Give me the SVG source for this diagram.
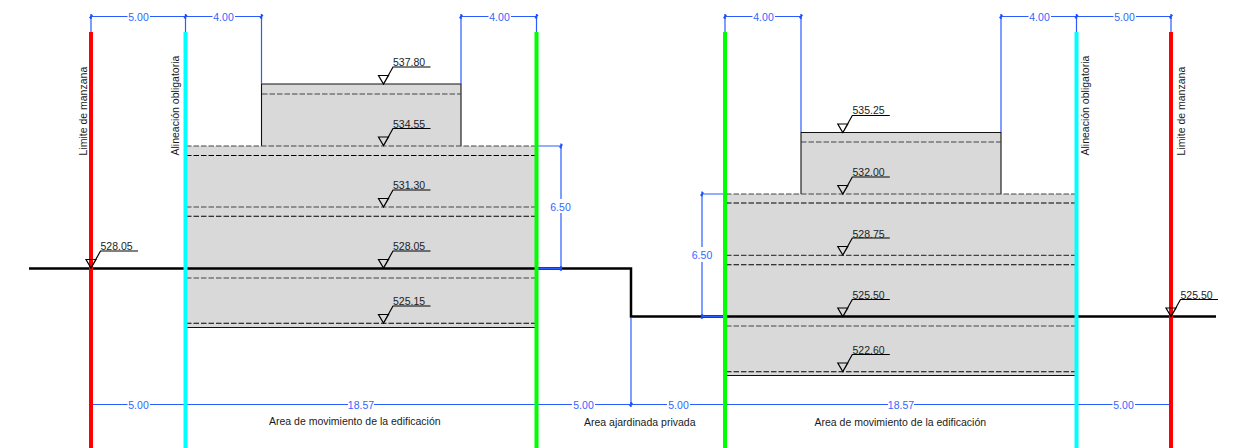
<svg xmlns="http://www.w3.org/2000/svg" xmlns:xlink="http://www.w3.org/1999/xlink" width="1236" height="448" viewBox="0 0 1236 448">
<style>
text{font-family:"Liberation Sans",Arial,sans-serif;font-size:10.5px}
.lab{fill:#1a1a1a}
.lv{fill:#222}
.dt{fill:#3366ff;text-anchor:middle}
.dim{stroke:#2b5cff;stroke-width:1.2;fill:none}
.tick{stroke:#1a4dff;stroke-width:1.4;fill:none}
.mass{fill:#d9d9d9}
.edge{stroke:#111;stroke-width:1.1;fill:none}
.dg{stroke:#444;stroke-width:1.2;stroke-dasharray:5.500 2;fill:none}
.dk{stroke:#000;stroke-width:1.1;stroke-dasharray:5.500 2;fill:none}
.ground{stroke:#000;stroke-width:2.5;fill:none}
.plane{stroke-width:4;fill:none}
.mk{stroke:#000;stroke-width:1.2;fill:none}
</style>
<defs>
<g id="lvl"><path class="mk" d="M-5-8.500H5L0 0ZM0 0 9.500-17H47"/></g>
<path id="t" class="tick" d="M-1.500 1.500 1.500-1.500M0-2.500V2.500"/>
</defs>

<g id="left-building">
<path class="mass" d="M261.500 84H461V146H536V327H186V146H261.500Z"/>
<path class="edge" d="M261.500 146V84H461V146M186 327.500H536"/>
<path class="dg" d="M262 94H461M186 146H536M186 207H536M186 278H536"/>
<path class="dk" d="M186 155.500H536M186 216.300H536M186 323.300H536"/>
</g>
<g id="right-building">
<path class="mass" d="M801 132.500H1001V194H1076V375H726V194H801Z"/>
<path class="edge" d="M801 194V132.500H1001V194M726 375.500H1076"/>
<path class="dg" d="M801 142H1001M726 194H1076M726 255.300H1076M726 326H1076"/>
<path class="dk" d="M726 203H1076M726 264.700H1076M726 371.700H1076"/>
</g>

<g id="connectors">
<g id="ground-line"><path class="ground" d="M29 268.500H631V316.500H1216"/></g>
<g id="dimensions">
<path class="dim" d="M91 16.500H127.500M150 16.500H212.500M235 16.500H261.500M461 16.500H488.500M511 16.500H536.500M725 16.500H752.500M775 16.500H801M1001 16.500H1028.500M1051 16.500H1113.500M1136 16.500H1171"/>
<path class="dim" d="M91 32V16M185.500 32V16M261.500 84V16M461 84V16M536.500 32V16M725 32V16M801 132V16M1001 132V16M1076.500 32V16M1171 32V16"/>
<path class="dim" d="M91 404.500H127.500M150 404.500H348M374 404.500H572M595 404.500H667M690 404.500H888M914 404.500H1112.500M1135 404.500H1171"/>
<path class="dim" d="M631 318V404.500"/>
<path class="dim" d="M538 146H561M561 146V199M561 213V268.500M538 268.500H561M702 194H725M702 194V247M702 262V316.500M702 316.500H725"/>
<use xlink:href="#t" href="#t" x="91" y="16.500"/><use xlink:href="#t" href="#t" x="185.500" y="16.500"/><use xlink:href="#t" href="#t" x="261.500" y="16.500"/><use xlink:href="#t" href="#t" x="461" y="16.500"/><use xlink:href="#t" href="#t" x="536.500" y="16.500"/><use xlink:href="#t" href="#t" x="725" y="16.500"/><use xlink:href="#t" href="#t" x="801" y="16.500"/><use xlink:href="#t" href="#t" x="1001" y="16.500"/><use xlink:href="#t" href="#t" x="1076.500" y="16.500"/><use xlink:href="#t" href="#t" x="1171" y="16.500"/>
<use xlink:href="#t" href="#t" x="561" y="146"/><use xlink:href="#t" href="#t" x="561" y="268.500"/><use xlink:href="#t" href="#t" x="702" y="194"/><use xlink:href="#t" href="#t" x="702" y="316.500"/><use xlink:href="#t" href="#t" x="631" y="404.500"/>
</g>
</g>

<g id="planes">
<path id="limit-left" class="plane" stroke="#ff0000" d="M91 32V448"/>
<path id="align-left" class="plane" stroke="#00ffff" d="M185.500 32V448"/>
<path id="green-left" class="plane" stroke="#00ff00" d="M536.500 32V448"/>
<path id="green-right" class="plane" stroke="#00ff00" d="M725 32V448"/>
<path id="align-right" class="plane" stroke="#00ffff" d="M1076.500 32V448"/>
<path id="limit-right" class="plane" stroke="#ff0000" d="M1171 32V448"/>
</g>

<g id="levels">
<g id="l1"><use xlink:href="#lvl" href="#lvl" x="383.500" y="84"/><text class="lv" x="393" y="66">537.80</text></g>
<g id="l2"><use xlink:href="#lvl" href="#lvl" x="383.500" y="145.500"/><text class="lv" x="393" y="127.500">534.55</text></g>
<g id="l3"><use xlink:href="#lvl" href="#lvl" x="383.500" y="207"/><text class="lv" x="393" y="189">531.30</text></g>
<g id="l4"><use xlink:href="#lvl" href="#lvl" x="383.500" y="268"/><text class="lv" x="393" y="250">528.05</text></g>
<g id="l5"><use xlink:href="#lvl" href="#lvl" x="383.500" y="323"/><text class="lv" x="393" y="305">525.15</text></g>
<g id="l6"><use xlink:href="#lvl" href="#lvl" x="91" y="268"/><text class="lv" x="100.500" y="250">528.05</text></g>
<g id="r1"><use xlink:href="#lvl" href="#lvl" x="842.800" y="132.500"/><text class="lv" x="852.500" y="114">535.25</text></g>
<g id="r2"><use xlink:href="#lvl" href="#lvl" x="842.800" y="194"/><text class="lv" x="852.500" y="176">532.00</text></g>
<g id="r3"><use xlink:href="#lvl" href="#lvl" x="842.800" y="255"/><text class="lv" x="852.500" y="237.500">528.75</text></g>
<g id="r4"><use xlink:href="#lvl" href="#lvl" x="842.800" y="316.500"/><text class="lv" x="852.500" y="298.500">525.50</text></g>
<g id="r5"><use xlink:href="#lvl" href="#lvl" x="842.800" y="371.500"/><text class="lv" x="852.500" y="353.500">522.60</text></g>
<g id="r6"><use xlink:href="#lvl" href="#lvl" x="1171" y="316.500"/><text class="lv" x="1180.500" y="298.500">525.50</text></g>
</g>

<g id="dim-labels">
<text class="dt" x="138.500" y="20.500">5.00</text><text class="dt" x="223.500" y="20.500">4.00</text><text class="dt" x="499.500" y="20.500">4.00</text><text class="dt" x="763.500" y="20.500">4.00</text><text class="dt" x="1039.500" y="20.500">4.00</text><text class="dt" x="1124.500" y="20.500">5.00</text>
<text class="dt" x="138.500" y="408.500">5.00</text><text class="dt" x="361" y="408.500">18.57</text><text class="dt" x="583.500" y="408.500">5.00</text><text class="dt" x="678.500" y="408.500">5.00</text><text class="dt" x="901" y="408.500">18.57</text><text class="dt" x="1123.500" y="408.500">5.00</text>
<text class="dt" x="560.500" y="211">6.50</text><text class="dt" x="702" y="259">6.50</text>
</g>

<g id="labels">
<text class="lab" transform="translate(87 155.500) rotate(-90)">Limite de manzana</text>
<text class="lab" transform="translate(178.500 155.500) rotate(-90)">Alineación obligatoria</text>
<text class="lab" transform="translate(1089 155.500) rotate(-90)">Alineación obligatoria</text>
<text class="lab" transform="translate(1185 155.500) rotate(-90)">Limite de manzana</text>
<text class="lab" x="269" y="424.500">Area de movimiento de la edificación</text>
<text class="lab" x="584" y="426">Area ajardinada privada</text>
<text class="lab" x="814.500" y="426">Area de movimiento de la edificación</text>
</g>
</svg>
